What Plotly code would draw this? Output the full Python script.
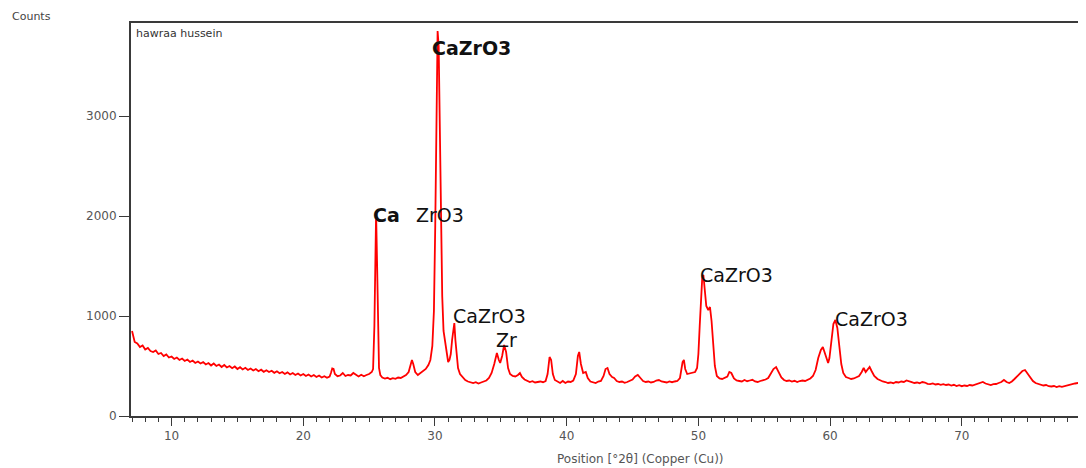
import plotly.graph_objects as go

two_theta = [
    7.0, 7.2, 7.4, 7.6, 7.8, 8.0, 8.2, 8.4, 8.6, 8.8, 9.0, 9.2, 9.4, 9.6, 9.8,
    10.0, 10.2, 10.4, 10.6, 10.8, 11.0, 11.2, 11.4, 11.6, 11.8, 12.0, 12.2, 12.4, 12.6, 12.8,
    13.0, 13.2, 13.4, 13.6, 13.8, 14.0, 14.2, 14.4, 14.6, 14.8, 15.0, 15.2, 15.4, 15.6, 15.8,
    16.0, 16.2, 16.4, 16.6, 16.8, 17.0, 17.2, 17.4, 17.6, 17.8, 18.0, 18.2, 18.4, 18.6, 18.8,
    19.0, 19.2, 19.4, 19.6, 19.8, 20.0, 20.2, 20.4, 20.6, 20.8, 21.0, 21.2, 21.4, 21.6, 21.8,
    22.0, 22.1, 22.2, 22.3, 22.4, 22.6, 22.8, 23.0, 23.2, 23.4, 23.6, 23.8, 24.0, 24.2, 24.4,
    24.6, 24.8, 25.0, 25.2, 25.3, 25.4, 25.47, 25.53, 25.6, 25.67, 25.75, 25.85, 26.0, 26.2, 26.4,
    26.6, 26.8, 27.0, 27.2, 27.4, 27.6, 27.8, 28.0, 28.15, 28.25, 28.35, 28.5, 28.7, 28.9, 29.1,
    29.3, 29.5, 29.65, 29.8, 29.92, 30.02, 30.12, 30.2, 30.28, 30.36, 30.45, 30.55, 30.65, 30.78, 30.9,
    31.0, 31.1, 31.2, 31.3, 31.4, 31.47, 31.55, 31.65, 31.75, 31.9, 32.1, 32.3, 32.5, 32.7, 32.9,
    33.1, 33.3, 33.5, 33.7, 33.9, 34.1, 34.3, 34.5, 34.7, 34.85, 34.95, 35.1, 35.25, 35.4, 35.55,
    35.7, 35.9, 36.1, 36.3, 36.45, 36.6, 36.8, 37.0, 37.2, 37.4, 37.6, 37.8, 38.0, 38.2, 38.4,
    38.55, 38.7, 38.82, 38.95, 39.1, 39.3, 39.5, 39.7, 39.9, 40.1, 40.3, 40.5, 40.7, 40.85, 40.95,
    41.08, 41.25, 41.45, 41.6, 41.8, 42.0, 42.2, 42.4, 42.6, 42.8, 42.95, 43.1, 43.25, 43.45, 43.6,
    43.8, 44.0, 44.2, 44.4, 44.6, 44.8, 45.0, 45.2, 45.4, 45.6, 45.8, 46.0, 46.2, 46.4, 46.6,
    46.8, 47.0, 47.2, 47.4, 47.6, 47.8, 48.0, 48.2, 48.4, 48.6, 48.8, 48.9, 49.0, 49.15, 49.35,
    49.55, 49.75, 49.9, 50.0, 50.1, 50.2, 50.3, 50.38, 50.48, 50.6, 50.75, 50.88, 51.0, 51.12, 51.25,
    51.4, 51.6, 51.8, 52.0, 52.2, 52.35, 52.5, 52.7, 52.9, 53.1, 53.3, 53.5, 53.7, 53.9, 54.1,
    54.3, 54.5, 54.7, 54.9, 55.1, 55.3, 55.5, 55.7, 55.9, 56.1, 56.3, 56.5, 56.7, 56.9, 57.1,
    57.3, 57.5, 57.7, 57.9, 58.1, 58.3, 58.5, 58.7, 58.9, 59.1, 59.3, 59.45, 59.6, 59.75, 59.85,
    59.95, 60.1, 60.25, 60.4, 60.55, 60.7, 60.85, 61.0, 61.2, 61.4, 61.6, 61.8, 62.0, 62.2, 62.4,
    62.55, 62.7, 62.85, 63.0, 63.15, 63.35, 63.6, 63.8, 64.0, 64.2, 64.4, 64.6, 64.8, 65.0, 65.2,
    65.4, 65.6, 65.8, 66.0, 66.2, 66.4, 66.6, 66.8, 67.0, 67.2, 67.4, 67.6, 67.8, 68.0, 68.2,
    68.4, 68.6, 68.8, 69.0, 69.2, 69.4, 69.6, 69.8, 70.0, 70.2, 70.4, 70.6, 70.8, 71.0, 71.2,
    71.4, 71.6, 71.8, 72.0, 72.2, 72.4, 72.6, 72.8, 73.0, 73.2, 73.4, 73.6, 73.8, 74.0, 74.2,
    74.4, 74.6, 74.8, 75.0, 75.2, 75.4, 75.6, 75.8, 76.0, 76.2, 76.4, 76.6, 76.8, 77.0, 77.2,
    77.4, 77.6, 77.8, 78.0, 78.2, 78.4, 78.6, 78.8, 79.0, 79.2, 79.4,
]

counts = [
    850, 740, 725, 690, 705, 665, 680, 650, 640, 655, 620, 630, 600, 615, 585,
    595, 570, 585, 560, 575, 550, 565, 540, 555, 530, 545, 525, 540, 515, 530,
    505, 525, 500, 515, 490, 510, 485, 500, 478, 495, 470, 488, 465, 482, 460,
    475, 455, 470, 448, 463, 442, 458, 440, 452, 432, 447, 428, 440, 420, 436,
    415, 430, 410, 425, 405, 420, 400, 415, 395, 410, 390, 405, 385, 398, 382,
    395, 430, 475, 470, 420, 398, 405, 430, 400, 410, 405, 430, 410, 395, 412,
    398, 410, 420, 440, 470, 900, 1700, 2030, 1550, 850, 480, 410, 385, 375, 382,
    368, 378, 372, 385, 380, 395, 410, 440, 520, 560, 520, 440, 410, 430, 445,
    470, 510, 560, 700, 1050, 1900, 3100, 3850, 3700, 2900, 1900, 1200, 850, 740, 600,
    540, 560, 620, 760, 880, 930, 760, 590, 480, 420, 385, 360, 345, 335, 330,
    338, 325, 335, 345, 355, 380, 430, 520, 630, 560, 530, 600, 710, 640, 480,
    420, 400, 395, 410, 430, 390, 365, 350, 340, 348, 335, 340, 345, 338, 350,
    420, 590, 560, 420, 360, 345, 330, 350, 330, 345, 340, 355, 420, 600, 640,
    520, 430, 440, 380, 345, 340, 330, 345, 350, 400, 470, 480, 420, 390, 380,
    350, 340, 345, 332, 340, 350, 365, 395, 410, 380, 350, 340, 345, 335, 340,
    355, 360, 345, 340, 335, 345, 338, 345, 350, 380, 540, 560, 470, 420, 425,
    430, 440, 480, 620, 900, 1200, 1400, 1410, 1250, 1100, 1060, 1090, 950, 700, 500,
    400, 375, 370, 380, 395, 440, 430, 375, 355, 350, 345, 360, 348, 355, 362,
    345, 340, 350, 355, 365, 380, 420, 470, 490, 430, 385, 360, 350, 355, 345,
    352, 340, 350, 355, 350, 365, 375, 400, 460, 580, 660, 690, 620, 560, 530,
    580, 750, 920, 960, 880, 700, 520, 430, 390, 380, 370, 375, 385, 400, 440,
    480, 440, 460, 490, 450, 400, 370, 355, 345, 340, 330, 335, 328, 340, 335,
    345, 340, 355, 350, 338, 330, 335, 328, 340, 335, 322, 318, 325, 315, 320,
    312, 318, 310, 315, 305, 312, 300, 308, 298, 305, 300, 310, 305, 312, 320,
    330, 340, 325, 315, 310, 318, 320, 330, 340, 360, 340, 330, 345, 370, 400,
    430, 450, 460, 420, 380, 350, 330, 320, 315, 305, 310, 298, 295, 300, 290,
    298, 292, 300, 305, 310, 318, 325, 330, 320, 305, 295,
]

x_ticks = [10, 20, 30, 40, 50, 60, 70]
y_ticks = [0, 1000, 2000, 3000]

peak_labels = ["CaZrO3", "Ca", "ZrO3", "CaZrO3", "Zr", "CaZrO3", "CaZrO3"]
label_x = [29.62, 25.14, 28.4, 31.2, 34.48, 49.97, 60.22]
label_y = [3680, 2010, 2010, 1000, 760, 1410, 970]
label_bold = [True, True, False, False, False, False, False]

# page body has an 8px margin; plot area should span x 131..1086, y 23..416 in the window
OFF = 8
PLOT_L, PLOT_R, PLOT_T, PLOT_B = 131, 1086, 23, 416
PW, PH = PLOT_R - PLOT_L, PLOT_B - PLOT_T

fig = go.Figure()
fig.add_trace(go.Scatter(
    x=two_theta, y=counts, mode="lines",
    line=dict(color="#ff0000", width=1.8),
    hoverinfo="skip", showlegend=False,
))

axis_color = "#3a3a3a"
tick_font = dict(family="DejaVu Sans", size=12, color="#555555")

fig.update_xaxes(
    range=[6.92, 79.43], tickmode="array", tickvals=x_ticks,
    ticks="outside", ticklen=8, tickwidth=1, tickcolor=axis_color,
    minor=dict(dtick=1, ticks="outside", ticklen=4, tickcolor=axis_color, tickwidth=1, showgrid=False),
    showline=True, linecolor=axis_color, linewidth=2, mirror=True,
    showgrid=False, zeroline=False, tickfont=tick_font,
)
fig.update_yaxes(
    range=[0, 3930], tickmode="array", tickvals=y_ticks,
    ticks="outside", ticklen=10, tickwidth=1, tickcolor=axis_color,
    showline=True, linecolor=axis_color, linewidth=2,
    showgrid=False, zeroline=False, tickfont=tick_font,
)

for txt, lx, ly, b in zip(peak_labels, label_x, label_y, label_bold):
    fig.add_annotation(
        x=lx, y=ly, xref="x", yref="y", text=f"<b>{txt}</b>" if b else txt,
        showarrow=False, xanchor="left", yanchor="middle",
        font=dict(family="DejaVu Sans", size=19, color="#111111"),
    )

fig.add_annotation(
    x=0.003, y=0.995, xref="paper", yref="paper", text="hawraa hussein",
    showarrow=False, xanchor="left", yanchor="top",
    font=dict(family="DejaVu Sans", size=11, color="#333333"),
)
fig.add_annotation(
    x=(10 - PLOT_L) / PW, y=(PLOT_B - 16) / PH, xref="paper", yref="paper", text="Counts",
    showarrow=False, xanchor="left", yanchor="middle",
    font=dict(family="DejaVu Sans", size=11, color="#444444"),
)
fig.add_annotation(
    x=(640 - PLOT_L) / PW, y=(PLOT_B - 459) / PH, xref="paper", yref="paper",
    text="Position [°2θ] (Copper (Cu))",
    showarrow=False, xanchor="center", yanchor="middle",
    font=dict(family="DejaVu Sans", size=12, color="#555555"),
)

fig.update_layout(
    width=1086 - OFF, height=468 - OFF,
    margin=dict(l=PLOT_L - OFF, r=0, t=PLOT_T - OFF, b=468 - PLOT_B, pad=0),
    paper_bgcolor="white", plot_bgcolor="white",
    showlegend=False,
)

fig.write_html("out.html")
